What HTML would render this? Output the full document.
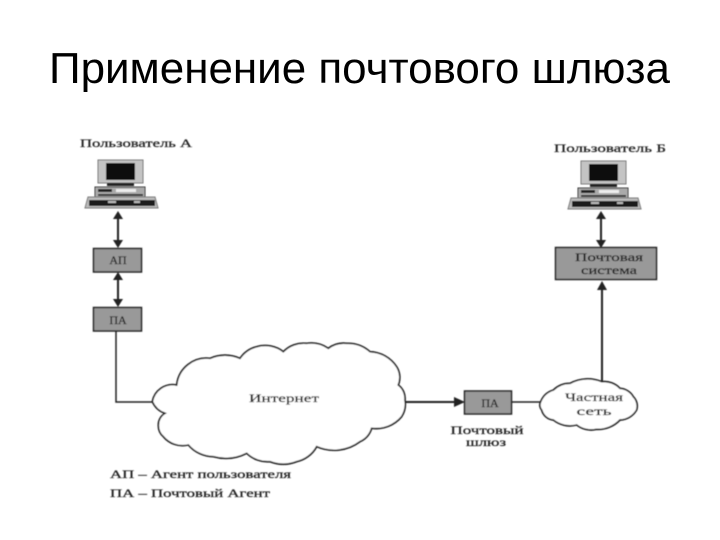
<!DOCTYPE html>
<html><head><meta charset="utf-8"><style>
html,body{margin:0;padding:0;background:#fff;width:720px;height:540px;overflow:hidden}
svg{display:block}
.t{font-family:"Liberation Sans",sans-serif;fill:#000}
.s{font-family:"Liberation Serif",serif;fill:#222;font-size:12px;stroke:#222;stroke-width:.25}
</style></head><body>
<svg width="720" height="540" viewBox="0 0 720 540" xmlns="http://www.w3.org/2000/svg">
<defs>
<filter id="b" x="-5%" y="-5%" width="110%" height="110%"><feGaussianBlur stdDeviation="0.4"/></filter>
<g id="pc">
  <rect x="0" y="0" width="45" height="23" fill="#c4c4c4" stroke="#777"/>
  <rect x="8" y="3" width="29" height="17" fill="#0c0c0c"/>
  <rect x="9" y="23" width="27" height="3" fill="#222"/>
  <rect x="-3" y="27" width="50" height="10" fill="#aaa" stroke="#333"/>
  <rect x="0" y="29" width="14" height="3" fill="#222"/>
  <rect x="18" y="29" width="20" height="3" fill="#eee"/>
  <rect x="0" y="34" width="45" height="2" fill="#333"/>
  <path d="M-10 37H57L60 48H-13Z" fill="#bbb" stroke="#777"/>
  <rect x="-9" y="40" width="66" height="6" fill="#1c1c1c"/>
  <rect x="10" y="41" width="8" height="2" fill="#bbb"/>
  <rect x="36" y="41" width="6" height="2" fill="#bbb"/>
</g>
</defs>
<text class="t" x="49" y="83" font-size="43.500" textLength="621" lengthAdjust="spacingAndGlyphs">Применение почтового шлюза</text>

<g filter="url(#b)">
<text class="s" x="80" y="147" textLength="112" lengthAdjust="spacingAndGlyphs">Пользователь А</text>
<text class="s" x="554" y="152" textLength="112" lengthAdjust="spacingAndGlyphs">Пользователь Б</text>

<use href="#pc" x="98" y="160"/>
<use href="#pc" x="581" y="161"/>

<g stroke="#222" stroke-width="2" fill="#222">
  <line x1="118" y1="216" x2="118" y2="243"/>
  <path d="M118 211l-5 8h10zM118 248l-5-8h10z" stroke="none"/>
  <line x1="118" y1="277" x2="118" y2="302"/>
  <path d="M118 272l-5 8h10zM118 307l-5-8h10z" stroke="none"/>
  <line x1="601" y1="216" x2="601" y2="243"/>
  <path d="M601 211l-5 8h10zM601 248l-5-8h10z" stroke="none"/>
  <line x1="602" y1="287" x2="602" y2="383"/>
  <path d="M602 281l-5 9h10z" stroke="none"/>
  <line x1="405" y1="402" x2="455" y2="402"/>
  <path d="M465 402l-11-5v10z" stroke="none"/>
</g>
<path d="M116 331V402H153M512 402H541" fill="none" stroke="#222" stroke-width="1.500"/>

<g fill="#999" stroke="#222" stroke-width="1.500">
  <rect x="93.500" y="248.500" width="48" height="23.500"/>
  <rect x="93.500" y="307.500" width="48" height="23.500"/>
  <rect x="555.500" y="247.500" width="101" height="32"/>
  <rect x="464.500" y="391" width="47" height="23"/>
</g>
<text class="s" x="118" y="264" text-anchor="middle" font-size="14">АП</text>
<text class="s" x="118" y="324" text-anchor="middle" font-size="14">ПА</text>
<text class="s" x="609" y="261" text-anchor="middle" textLength="68" lengthAdjust="spacingAndGlyphs">Почтовая</text>
<text class="s" x="609" y="274" text-anchor="middle" textLength="56" lengthAdjust="spacingAndGlyphs">система</text>
<text class="s" x="490" y="407" text-anchor="middle" font-size="14">ПА</text>

<g transform="translate(100 330) scale(.33333)" fill="#fff" stroke="#222" stroke-width="5">
  <path d="M157 215A62 62 0 0 1 230 165A90 90 0 0 1 330 85A110 110 0 0 1 420 85A85 85 0 0 1 470 50A90 90 0 0 1 550 65A85 85 0 0 1 620 40A90 90 0 0 1 685 55A75 75 0 0 1 740 40A100 100 0 0 1 810 65A100 100 0 0 1 890 110A60 60 0 0 1 895 165A50 50 0 0 1 915 210A70 70 0 0 1 905 260A100 100 0 0 1 815 295A65 65 0 0 1 780 335A130 130 0 0 1 650 350A90 90 0 0 1 590 395A110 110 0 0 1 510 395A90 90 0 0 1 440 370A140 140 0 0 1 340 380A100 100 0 0 1 265 345A75 75 0 0 1 190 320A45 45 0 0 1 175 285A40 40 0 0 1 195 250A65 65 0 0 1 157 215Z"/>
</g>
<g transform="translate(420 360) scale(.33333)" fill="#fff" stroke="#222" stroke-width="5">
  <path d="M362 125A60 60 0 0 1 400 90A70 70 0 0 1 450 70A110 110 0 0 1 545 65A65 65 0 0 1 600 85A50 50 0 0 1 640 110A40 40 0 0 1 650 150A60 60 0 0 1 600 180A90 90 0 0 1 530 208A70 70 0 0 1 470 195A80 80 0 0 1 400 180A40 40 0 0 1 365 150A22 22 0 0 1 362 125Z"/>
</g>

<text class="s" x="284" y="402" text-anchor="middle" textLength="70" lengthAdjust="spacingAndGlyphs">Интернет</text>
<text class="s" x="594" y="401" text-anchor="middle" textLength="58" lengthAdjust="spacingAndGlyphs">Частная</text>
<text class="s" x="594" y="415" text-anchor="middle" textLength="35" lengthAdjust="spacingAndGlyphs">сеть</text>
<text class="s" x="487" y="434" text-anchor="middle" textLength="73" lengthAdjust="spacingAndGlyphs">Почтовый</text>
<text class="s" x="486" y="446" text-anchor="middle" textLength="40" lengthAdjust="spacingAndGlyphs">шлюз</text>
<text class="s" x="110" y="478" textLength="181" lengthAdjust="spacingAndGlyphs">АП – Агент пользователя</text>
<text class="s" x="110" y="497" textLength="160" lengthAdjust="spacingAndGlyphs">ПА – Почтовый Агент</text>
</g>
</svg>
</body></html>
